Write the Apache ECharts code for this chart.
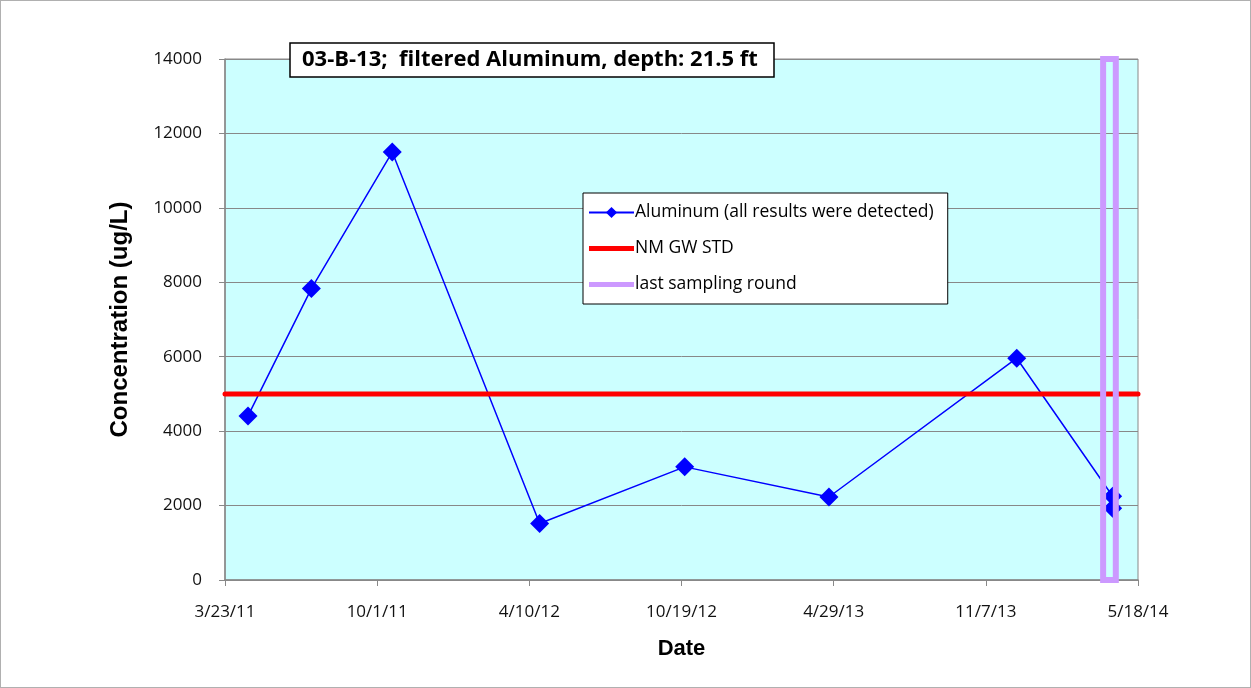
<!DOCTYPE html>
<html>
<head>
<meta charset="utf-8">
<script src="https://cdn.jsdelivr.net/npm/echarts@6/dist/echarts.min.js"></script>
<style>
  html, body { margin: 0; padding: 0; background: #fff; }
  #chart { width: 1251px; height: 688px; box-sizing: border-box; border: 1px solid #b0b0b0; }
</style>
</head>
<body>
<div id="chart"></div>
<script>
// ---- data ----
const titleText = '03-B-13;  filtered Aluminum, depth: 21.5 ft';
const axisStartDate = '2011-03-23';
const axisEndDate = '2014-05-18';
const tickStepDays = 192;
const sampleDates = ['2011-04-21', '2011-07-10', '2011-10-20', '2012-04-23', '2012-10-23', '2013-04-23', '2013-12-16', '2014-04-16', '2014-04-16'];
const aluminumValues = [4410, 7830, 11500, 1520, 3040, 2230, 5960, 2250, 1930];
const stdValue = 5000;
const lastRoundStart = '2014-04-04';
const lastRoundEnd = '2014-04-20';
const yMin = 0, yMax = 14000, yStep = 2000;
const seriesNames = ['Aluminum (all results were detected)', 'NM GW STD', 'last sampling round'];

// ---- helpers ----
const DAY = 86400000;
function utc(s) { const p = s.split('-').map(Number); return Date.UTC(p[0], p[1] - 1, p[2]); }
const t0 = utc(axisStartDate);
function dayOffset(s) { return Math.round((utc(s) - t0) / DAY); }
function fmtDay(v) {
  const d = new Date(t0 + v * DAY);
  return (d.getUTCMonth() + 1) + '/' + d.getUTCDate() + '/' + String(d.getUTCFullYear()).slice(2);
}
const xMax = dayOffset(axisEndDate);

const chart = echarts.init(document.getElementById('chart'), null, { renderer: 'canvas' });
const labelFont = '"Open Sans", "Liberation Sans", sans-serif';
const boldFont = '"Liberation Sans", Arial, sans-serif';
const barIcon = 'path://M0,0 L45,0 L45,5 L0,5 Z';

chart.setOption({
  animation: false,
  title: {
    text: titleText,
    left: 289, top: 42,
    backgroundColor: '#fff',
    borderColor: '#000', borderWidth: 1.5,
    padding: [4, 16, 4, 12],
    textStyle: { fontFamily: labelFont, fontWeight: 'bold', fontSize: 22, color: '#000', lineHeight: 26 }
  },
  legend: {
    data: [
      { name: seriesNames[0] },
      { name: seriesNames[1], icon: barIcon },
      { name: seriesNames[2], icon: barIcon }
    ],
    orient: 'vertical',
    left: 582, top: 192,
    backgroundColor: '#fff',
    borderColor: '#000', borderWidth: 1,
    padding: [9, 14, 9, 5],
    itemGap: 15,
    itemWidth: 45, itemHeight: 14,
    textStyle: { fontFamily: labelFont, fontSize: 17.5, color: '#000', padding: [0, 0, 0, -4], lineHeight: 21 }
  },
  grid: {
    left: 224, right: 112, top: 58, bottom: 107,
    show: true, backgroundColor: '#CCFFFF', borderColor: '#888', borderWidth: 1
  },
  xAxis: {
    type: 'value',
    min: 0, max: xMax, interval: tickStepDays,
    name: 'Date', nameLocation: 'middle', nameGap: 58,
    nameTextStyle: { fontFamily: boldFont, fontWeight: 'bold', fontSize: 22, color: '#000' },
    axisLine: { show: true, lineStyle: { color: '#888', width: 1.5 } },
    axisTick: { show: true, inside: false, length: 6, lineStyle: { color: '#888' } },
    axisLabel: { formatter: fmtDay, margin: 24, fontFamily: labelFont, fontSize: 17, color: '#111' },
    splitLine: { show: false }
  },
  yAxis: {
    type: 'value',
    min: yMin, max: yMax, interval: yStep,
    name: 'Concentration (ug/L)', nameLocation: 'middle', nameGap: 93,
    nameTextStyle: { fontFamily: boldFont, fontWeight: 'bold', fontSize: 24, color: '#000' },
    axisLine: { show: true, lineStyle: { color: '#888', width: 1.5 } },
    axisTick: { show: true, inside: false, length: 6, lineStyle: { color: '#888' } },
    axisLabel: { formatter: v => String(v), margin: 23, fontFamily: labelFont, fontSize: 17, color: '#111' },
    splitLine: { show: true, lineStyle: { color: '#888', width: 1 } }
  },
  series: [
    {
      name: seriesNames[0],
      type: 'line',
      data: sampleDates.map((d, i) => [dayOffset(d), aluminumValues[i]]),
      symbol: 'diamond', symbolSize: 19,
      itemStyle: { color: '#0000FF' },
      lineStyle: { color: '#0000FF', width: 1.5 },
      z: 2
    },
    {
      name: seriesNames[1],
      type: 'line',
      data: [[0, stdValue], [xMax, stdValue]],
      symbol: 'none',
      itemStyle: { color: '#FF0000' },
      lineStyle: { color: '#FF0000', width: 5, cap: 'round' },
      z: 3
    },
    {
      name: seriesNames[2],
      type: 'line',
      data: [],
      symbol: 'none',
      itemStyle: { color: '#CC99FF' },
      lineStyle: { color: '#CC99FF', width: 5, cap: 'round' },
      z: 10,
      markArea: {
        silent: true,
        z: 10,
        itemStyle: { color: 'rgba(0,0,0,0)', borderColor: '#CC99FF', borderWidth: 6 },
        data: [[{ xAxis: dayOffset(lastRoundStart) }, { xAxis: dayOffset(lastRoundEnd) }]]
      }
    }
  ]
});
</script>
</body>
</html>
